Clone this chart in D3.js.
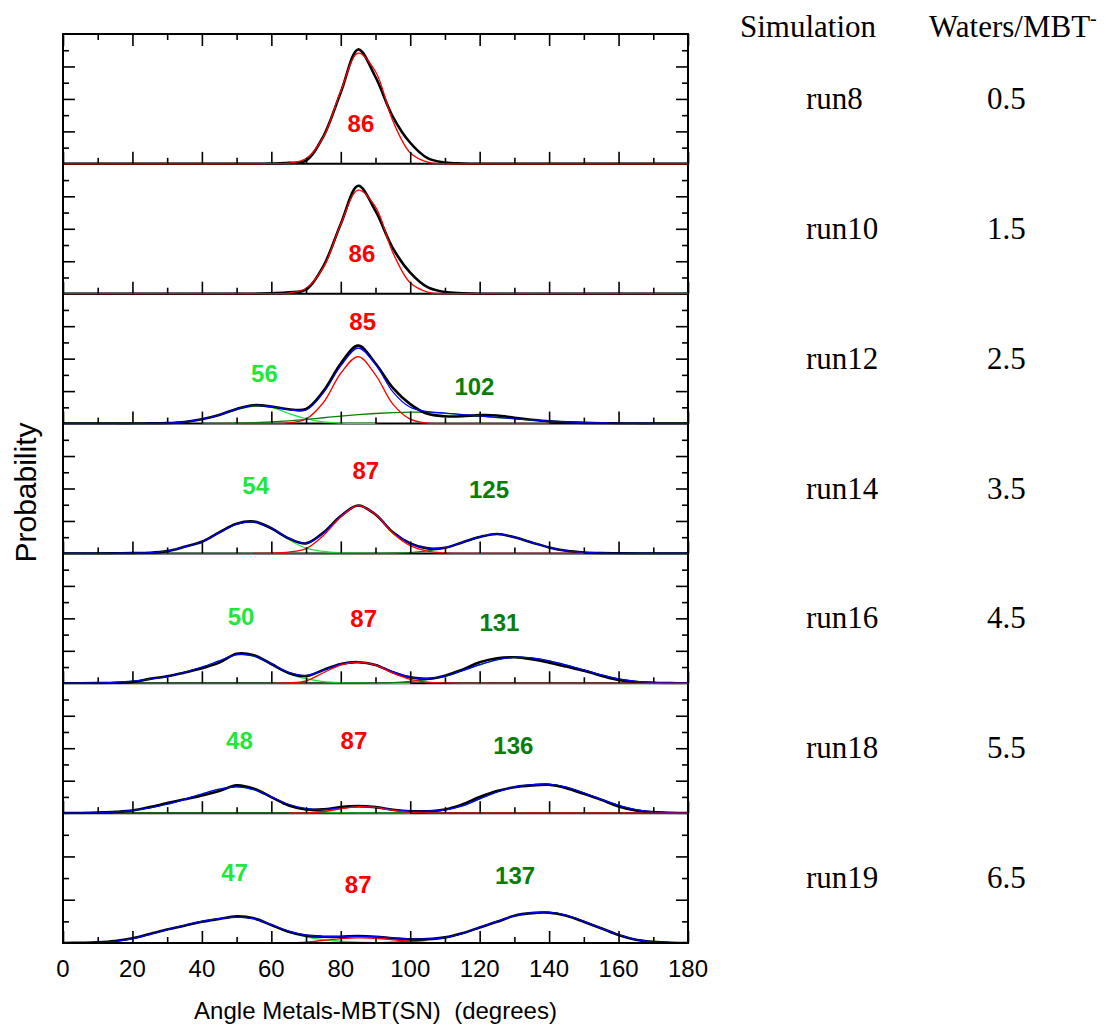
<!DOCTYPE html>
<html>
<head>
<meta charset="utf-8">
<script src="https://cdn.jsdelivr.net/npm/d3@7"></script>
<style>
  body { margin: 0; background: #fff; }
  svg { display: block; }
</style>
</head>
<body>
<svg id="chart" width="1106" height="1025"></svg>
<script>
const _ = null;

// x grid of the sampled curves (degrees)
const ANGLES = [0, 5, 10, 15, 20, 25, 30, 35, 40, 45, 50, 55,
  60, 65, 70, 75, 80, 85, 90, 95, 100, 105, 110, 115,
  120, 125, 130, 135, 140, 145, 150, 155, 160, 165, 170, 175, 180];

const RUNS = ["run8", "run10", "run12", "run14", "run16", "run18", "run19"];
const WATERS = ["0.5", "1.5", "2.5", "3.5", "4.5", "5.5", "6.5"];
const Y_MAX = [8, 8, 8, 8, 8, 8, 6];
const X_TICKS = [0, 20, 40, 60, 80, 100, 120, 140, 160, 180];

const RED_PEAKS = ["86", "86", "85", "87", "87", "87", "87"];
const LGREEN_PEAKS = [_, _, "56", "54", "50", "48", "47"];
const DGREEN_PEAKS = [_, _, "102", "125", "131", "136", "137"];

// histogram (black), one row per run
const HIST = [
  [0, 0, 0, 0, 0, 0, 0, 0, 0, 0, 0, 0,
   0.02, 0.06, 0.2, 1.7, 4.4, 7.05, 5.35, 2.9, 1.3, 0.35, 0.08, 0.02,
   0, 0, 0, 0, 0, 0, 0, 0, 0, 0, 0, 0, 0],
  [0, 0, 0, 0, 0, 0, 0, 0, 0, 0, 0, 0,
   0.03, 0.08, 0.25, 1.7, 4.3, 6.65, 5.1, 2.8, 1.3, 0.4, 0.1, 0.03,
   0, 0, 0, 0, 0, 0, 0, 0, 0, 0, 0, 0, 0],
  [0, 0, 0, 0, 0, 0.01, 0.03, 0.1, 0.27, 0.53, 0.9, 1.13,
   1.05, 0.88, 0.9, 2.0, 3.7, 4.8, 3.7, 2.2, 1.2, 0.6, 0.45, 0.45,
   0.52, 0.5, 0.36, 0.24, 0.14, 0.08, 0.04, 0.02, 0.01, 0, 0, 0, 0],
  [0, 0, 0, 0.01, 0.02, 0.04, 0.14, 0.41, 0.72, 1.3, 1.83, 1.96,
   1.55, 0.93, 0.62, 1.28, 2.3, 2.95, 2.4, 1.3, 0.62, 0.31, 0.35, 0.68,
   1.01, 1.2, 0.99, 0.68, 0.37, 0.16, 0.06, 0.02, 0.01, 0, 0, 0, 0],
  [0, 0, 0.01, 0.03, 0.08, 0.27, 0.43, 0.66, 0.92, 1.27, 1.82, 1.72,
   1.19, 0.64, 0.45, 0.82, 1.19, 1.3, 1.13, 0.68, 0.37, 0.28, 0.47, 0.84,
   1.29, 1.54, 1.6, 1.48, 1.27, 1.03, 0.78, 0.47, 0.2, 0.08, 0.03, 0.01, 0],
  [0, 0.01, 0.04, 0.08, 0.16, 0.37, 0.62, 0.85, 1.09, 1.36, 1.71, 1.5,
   0.99, 0.47, 0.23, 0.23, 0.37, 0.43, 0.37, 0.21, 0.12, 0.12, 0.23, 0.54,
   0.99, 1.36, 1.6, 1.71, 1.75, 1.54, 1.19, 0.82, 0.41, 0.16, 0.06, 0.02, 0],
  [0, 0.01, 0.03, 0.09, 0.22, 0.42, 0.62, 0.8, 0.98, 1.11, 1.23, 1.14,
   0.83, 0.52, 0.34, 0.29, 0.29, 0.32, 0.29, 0.22, 0.17, 0.18, 0.26, 0.45,
   0.72, 0.98, 1.26, 1.38, 1.4, 1.26, 0.98, 0.68, 0.37, 0.15, 0.05, 0.01, 0]
];

// sum of the fitted gaussians (blue)
const FIT_SUM = [
  _,
  _,
  [0, 0, 0, 0, 0, 0.01, 0.03, 0.1, 0.27, 0.53, 0.9, 1.12,
   1.05, 0.86, 0.84, 1.9, 3.55, 4.65, 3.65, 1.95, 1.0, 0.74, 0.65, 0.56,
   0.47, 0.38, 0.3, 0.22, 0.15, 0.1, 0.06, 0.04, 0.02, 0.01, 0, 0, 0],
  [0, 0, 0, 0.01, 0.02, 0.05, 0.15, 0.4, 0.72, 1.28, 1.8, 1.95,
   1.55, 0.95, 0.62, 1.25, 2.3, 2.95, 2.42, 1.3, 0.6, 0.32, 0.36, 0.68,
   1.02, 1.2, 1.0, 0.68, 0.37, 0.16, 0.06, 0.02, 0.01, 0, 0, 0, 0],
  [0, 0.01, 0.02, 0.06, 0.13, 0.25, 0.42, 0.68, 1.0, 1.38, 1.76, 1.68,
   1.2, 0.68, 0.48, 0.8, 1.18, 1.3, 1.12, 0.7, 0.38, 0.3, 0.45, 0.78,
   1.15, 1.45, 1.6, 1.56, 1.38, 1.12, 0.82, 0.52, 0.27, 0.12, 0.05, 0.02, 0.01],
  [0, 0.01, 0.03, 0.08, 0.17, 0.32, 0.55, 0.85, 1.18, 1.48, 1.62, 1.45,
   1.0, 0.55, 0.28, 0.22, 0.3, 0.4, 0.36, 0.22, 0.13, 0.12, 0.2, 0.45,
   0.88, 1.3, 1.6, 1.76, 1.78, 1.6, 1.25, 0.85, 0.48, 0.22, 0.08, 0.03, 0.01],
  [0, 0.01, 0.03, 0.08, 0.2, 0.4, 0.62, 0.82, 1.0, 1.13, 1.2, 1.12,
   0.85, 0.55, 0.36, 0.3, 0.3, 0.31, 0.29, 0.23, 0.19, 0.19, 0.25, 0.44,
   0.72, 1.0, 1.25, 1.4, 1.42, 1.28, 1.0, 0.68, 0.38, 0.16, 0.06, 0.02, 0]
];

// gaussian centred near 85-87 (red)
const FIT_RED = [
  [0, 0, 0, 0, 0, 0, 0, 0, 0, 0, 0, 0,
   0.01, 0.04, 0.33, 1.65, 4.5, 6.82, 5.69, 2.64, 0.68, 0.1, 0.01, 0,
   0, 0, 0, 0, 0, 0, 0, 0, 0, 0, 0, 0, 0],
  [0, 0, 0, 0, 0, 0, 0, 0, 0, 0, 0, 0,
   0.01, 0.04, 0.34, 1.62, 4.28, 6.38, 5.35, 2.53, 0.67, 0.1, 0.01, 0,
   0, 0, 0, 0, 0, 0, 0, 0, 0, 0, 0, 0, 0],
  [_, _, _, _, _, _, _, _, _, _, 0, 0,
   0, 0.04, 0.28, 1.3, 3.1, 4.13, 3.0, 1.2, 0.27, 0.03, 0, 0,
   0, 0, 0, 0, 0, _, _, _, _, _, _, _, _],
  [_, _, _, _, _, _, _, _, _, _, _, 0,
   0.01, 0.08, 0.3, 1.1, 2.25, 2.95, 2.4, 1.25, 0.48, 0.14, 0.03, 0,
   0, 0, 0, 0, 0, 0, 0, _, _, _, _, _, _],
  [_, _, _, _, _, _, _, _, _, _, _, _,
   0, 0.02, 0.15, 0.65, 1.12, 1.3, 1.12, 0.62, 0.24, 0.07, 0.02, 0,
   0, 0, 0, 0, 0, 0, 0, 0, 0, 0, 0, 0, 0],
  [_, _, _, _, _, _, _, _, _, _, _, _,
   _, 0, 0.02, 0.1, 0.27, 0.4, 0.35, 0.17, 0.05, 0.01, 0, 0,
   0, 0, 0, 0, 0, 0, 0, 0, 0, 0, 0, 0, 0],
  [_, _, _, _, _, _, _, _, _, _, _, _,
   0, 0, 0.04, 0.12, 0.2, 0.24, 0.22, 0.15, 0.07, 0.02, 0, 0,
   0, 0, 0, 0, 0, 0, 0, 0, 0, 0, 0, 0, 0]
];

// low-angle gaussian (light green)
const FIT_LGREEN = [
  _,
  _,
  [_, _, _, _, 0, 0.01, 0.03, 0.1, 0.27, 0.52, 0.85, 1.06,
   1.0, 0.62, 0.3, 0.1, 0.03, 0.01, 0, _, _, _, _, _,
   _, _, _, _, _, _, _, _, _, _, _, _, _],
  [_, _, 0, 0, 0.02, 0.04, 0.14, 0.4, 0.72, 1.28, 1.8, 1.95,
   1.52, 0.86, 0.32, 0.12, 0.04, 0.01, 0, 0, _, _, _, _,
   _, _, _, _, _, _, _, _, _, _, _, _, _],
  [0, 0.01, 0.02, 0.06, 0.13, 0.25, 0.42, 0.68, 1.0, 1.38, 1.75, 1.66,
   1.15, 0.6, 0.28, 0.1, 0.03, 0.01, 0, 0, 0, _, _, _,
   _, _, _, _, _, _, _, _, _, _, _, _, _],
  [0, 0.01, 0.03, 0.08, 0.17, 0.32, 0.55, 0.85, 1.18, 1.48, 1.62, 1.44,
   0.97, 0.5, 0.2, 0.08, 0.03, 0.01, 0, 0, 0, _, _, _,
   _, _, _, _, _, _, _, _, _, _, _, _, _],
  [0, 0.01, 0.03, 0.08, 0.2, 0.4, 0.62, 0.82, 1.0, 1.13, 1.2, 1.12,
   0.83, 0.5, 0.28, 0.15, 0.08, 0.04, 0.02, 0.01, 0, _, _, _,
   _, _, _, _, _, _, _, _, _, _, _, _, _]
];

// high-angle gaussian (dark green)
const FIT_DGREEN = [
  _,
  _,
  [_, _, _, _, _, _, _, _, 0, 0.01, 0.02, 0.05,
   0.1, 0.17, 0.26, 0.36, 0.46, 0.55, 0.62, 0.67, 0.7, 0.69, 0.63, 0.55,
   0.46, 0.37, 0.29, 0.21, 0.15, 0.1, 0.06, 0.04, 0.02, 0.01, 0, _, _],
  [_, _, _, _, 0, 0, 0, 0, 0, 0, 0, 0,
   0, 0, 0, 0, 0, 0, 0, 0.01, 0.05, 0.16, 0.33, 0.66,
   1.0, 1.2, 1.0, 0.68, 0.37, 0.16, 0.06, 0.02, 0.01, 0, _, _, _],
  [_, _, 0, 0, 0, 0, 0, 0, 0, 0, 0, 0,
   0, 0, 0, 0, 0, 0, 0.01, 0.04, 0.11, 0.22, 0.42, 0.76,
   1.13, 1.44, 1.6, 1.56, 1.38, 1.12, 0.82, 0.52, 0.27, 0.12, 0.05, 0.02, 0.01],
  [0, 0, 0, 0, 0, 0, 0, 0, 0, 0, 0, 0,
   0, 0, 0, 0, 0, 0, 0, 0, 0.04, 0.1, 0.19, 0.44,
   0.88, 1.3, 1.6, 1.76, 1.78, 1.6, 1.25, 0.85, 0.48, 0.22, 0.08, 0.03, 0.01],
  [0, 0, 0, 0, 0, 0, 0, 0, 0, 0, 0, 0,
   0, 0, 0, 0, 0, 0, 0, 0.04, 0.1, 0.16, 0.24, 0.43,
   0.72, 1.0, 1.25, 1.4, 1.42, 1.28, 1.0, 0.68, 0.38, 0.16, 0.06, 0.02, 0]
];

// layout
const LEFT = 63, RIGHT = 688, TOP = 34, BOTTOM = 943;
const PANEL_H = (BOTTOM - TOP) / RUNS.length;
const SANS = "'Liberation Sans', Arial, sans-serif";
const SERIF = "'Liberation Serif', 'Times New Roman', serif";

const RED = "#ff0000", LGREEN = "#1ee83c", DGREEN = "#087d08", BLUE = "#0000ff";

// where the peak numbers sit: [angle, y in tick units]
const RED_LABEL_AT = [[85.8, 1.97], [86.1, 1.95], [86.3, 5.77], [87.2, 4.59], [86.6, 3.48], [83.8, 3.96], [85, 2.31]];
const LGREEN_LABEL_AT = [_, _, [58, 2.56], [55.5, 3.66], [51.3, 3.6], [50.8, 3.96], [49.4, 2.87]];
const DGREEN_LABEL_AT = [_, _, [118.5, 1.76], [122.7, 3.42], [125.7, 3.22], [129.7, 3.67], [130.2, 2.73]];

const svg = d3.select("#chart");
const x = d3.scaleLinear().domain([0, 180]).range([LEFT, RIGHT]);
const minorX = X_TICKS.slice(1).map(v => v - 10);

// drawing order: green components, histogram, fit sum, red component on top
const series = [
  { rows: FIT_LGREEN, color: LGREEN, width: 1.3 },
  { rows: FIT_DGREEN, color: DGREEN, width: 1.3 },
  { rows: HIST, color: "#000", width: 2.6 },
  { rows: FIT_SUM, color: BLUE, width: 1.2 },
  { rows: FIT_RED, color: RED, width: 1.3 }
];

RUNS.forEach((run, i) => {
  const top = TOP + i * PANEL_H;
  const bottom = top + PANEL_H;
  const y = d3.scaleLinear().domain([0, Y_MAX[i]]).range([bottom, top]);
  const g = svg.append("g");

  // separator / baseline (under the curves)
  g.append("line")
    .attr("x1", LEFT).attr("x2", RIGHT)
    .attr("y1", bottom).attr("y2", bottom)
    .attr("stroke", "#000").attr("stroke-width", 2);

  g.append("clipPath").attr("id", "clip" + i)
    .append("rect")
    .attr("x", LEFT).attr("y", top)
    .attr("width", RIGHT - LEFT).attr("height", PANEL_H + 1);

  const line = d3.line()
    .defined(d => d[1] != null)
    .x(d => x(d[0]))
    .y(d => y(d[1]))
    .curve(d3.curveCatmullRom.alpha(0.5));

  const curves = g.append("g").attr("clip-path", `url(#clip${i})`);
  series.forEach(s => {
    const row = s.rows[i];
    if (!row) return;
    curves.append("path")
      .datum(ANGLES.map((a, k) => [a, row[k]]))
      .attr("fill", "none")
      .attr("stroke", s.color)
      .attr("stroke-width", s.width)
      .attr("stroke-linejoin", "round")
      .attr("d", line);
  });

  // inward ticks
  const tickStyle = sel => {
    sel.select(".domain").remove();
    sel.selectAll(".tick line").attr("stroke", "#000").attr("stroke-width", 1.6);
  };
  g.append("g").attr("transform", `translate(0,${bottom})`)
    .call(d3.axisTop(x).tickValues(X_TICKS).tickSize(12).tickFormat(""))
    .call(tickStyle);
  g.append("g").attr("transform", `translate(0,${bottom})`)
    .call(d3.axisTop(x).tickValues(minorX).tickSize(6).tickFormat(""))
    .call(tickStyle);
  if (i === 0) {
    g.append("g").attr("transform", `translate(0,${top})`)
      .call(d3.axisBottom(x).tickValues(X_TICKS).tickSize(12).tickFormat(""))
      .call(tickStyle);
    g.append("g").attr("transform", `translate(0,${top})`)
      .call(d3.axisBottom(x).tickValues(minorX).tickSize(6).tickFormat(""))
      .call(tickStyle);
  }

  const yTicks = d3.range(1, Y_MAX[i]);
  const major = yTicks.filter(v => v % 2 === 0);
  const minor = yTicks.filter(v => v % 2 === 1);
  g.append("g").attr("transform", `translate(${LEFT},0)`)
    .call(d3.axisRight(y).tickValues(major).tickSize(12).tickFormat(""))
    .call(tickStyle);
  g.append("g").attr("transform", `translate(${LEFT},0)`)
    .call(d3.axisRight(y).tickValues(minor).tickSize(6).tickFormat(""))
    .call(tickStyle);
  g.append("g").attr("transform", `translate(${RIGHT},0)`)
    .call(d3.axisLeft(y).tickValues(major).tickSize(12).tickFormat(""))
    .call(tickStyle);
  g.append("g").attr("transform", `translate(${RIGHT},0)`)
    .call(d3.axisLeft(y).tickValues(minor).tickSize(6).tickFormat(""))
    .call(tickStyle);

  // peak labels
  const labels = [
    [RED_PEAKS[i], RED_LABEL_AT[i], RED],
    [LGREEN_PEAKS[i], LGREEN_LABEL_AT[i], LGREEN],
    [DGREEN_PEAKS[i], DGREEN_LABEL_AT[i], DGREEN]
  ];
  labels.forEach(([txt, at, color]) => {
    if (!txt) return;
    g.append("text")
      .attr("x", x(at[0]))
      .attr("y", bottom - at[1] * (PANEL_H / Y_MAX[i]))
      .attr("text-anchor", "middle")
      .attr("fill", color)
      .style("font-family", SANS)
      .style("font-weight", "bold")
      .style("font-size", "24px")
      .text(txt);
  });

  // table row
  const mid = top + PANEL_H / 2;
  svg.append("text")
    .attr("x", 806).attr("y", mid + 10)
    .style("font-family", SERIF).style("font-size", "31px")
    .text(run);
  svg.append("text")
    .attr("x", 987).attr("y", mid + 10)
    .style("font-family", SERIF).style("font-size", "31px")
    .text(WATERS[i]);
});

// outer frame
svg.append("rect")
  .attr("x", LEFT).attr("y", TOP)
  .attr("width", RIGHT - LEFT).attr("height", BOTTOM - TOP)
  .attr("fill", "none")
  .attr("stroke", "#000")
  .attr("stroke-width", 2);

// x tick labels
svg.append("g")
  .selectAll("text")
  .data(X_TICKS)
  .join("text")
  .attr("x", d => x(d))
  .attr("y", 977)
  .attr("text-anchor", "middle")
  .style("font-family", SANS)
  .style("font-size", "24px")
  .text(d => d);

svg.append("text")
  .attr("x", (LEFT + RIGHT) / 2)
  .attr("y", 1019)
  .attr("text-anchor", "middle")
  .style("font-family", SANS)
  .style("font-size", "24px")
  .style("white-space", "pre")
  .text("Angle Metals-MBT(SN)  (degrees)");

svg.append("text")
  .attr("transform", `translate(36,${(TOP + BOTTOM) / 2 + 4}) rotate(-90)`)
  .attr("text-anchor", "middle")
  .style("font-family", SANS)
  .style("font-size", "30px")
  .text("Probability");

// table header
svg.append("text")
  .attr("x", 808).attr("y", 37)
  .attr("text-anchor", "middle")
  .style("font-family", SERIF).style("font-size", "31px")
  .text("Simulation");
const hdr = svg.append("text")
  .attr("x", 929).attr("y", 37)
  .style("font-family", SERIF).style("font-size", "31px")
  .text("Waters/MBT");
hdr.append("tspan")
  .attr("dy", -12)
  .style("font-size", "20px")
  .text("-");
</script>
</body>
</html>
